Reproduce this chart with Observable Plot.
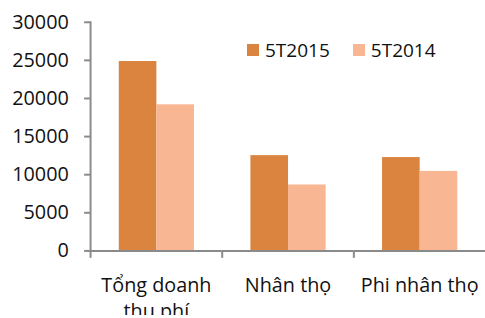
<!DOCTYPE html>
<html>
<head>
<meta charset="utf-8">
<script src="https://cdn.jsdelivr.net/npm/d3@7"></script>
<script src="https://cdn.jsdelivr.net/npm/@observablehq/plot@0.6"></script>
<style>
  html, body { margin: 0; padding: 0; background: #fff; overflow: hidden; }
  #wrap { position: relative; width: 485px; height: 318px; overflow: hidden; font-family: "Open Sans", sans-serif; }
  #chart svg text { font-size: 20px; }
  #leg { position: absolute; left: 247px; top: 33px; }
  .lg-swatch { margin-right: 23px !important; }
  .lg-swatch > svg { margin-right: 6px !important; }
</style>
</head>
<body>
<div id="wrap"><div id="chart"></div><div id="leg"></div></div>
<script>
const categories = ["Tổng doanh thu phí", "Nhân thọ", "Phi nhân thọ"];
const series = ["5T2015", "5T2014"];
const values2015 = [24850, 12500, 12250];
const values2014 = [19170, 8650, 10430];
const colors = ["#DA843F", "#F8B693"];
const yTicks = [0, 5000, 10000, 15000, 20000, 25000, 30000];
const catLabels = {"Tổng doanh thu phí": "Tổng doanh\nthu phí", "Nhân thọ": "Nhân thọ", "Phi nhân thọ": "Phi nhân thọ"};

const data = [];
categories.forEach((c, i) => {
  data.push({cat: c, series: series[0], value: values2015[i]});
  data.push({cat: c, series: series[1], value: values2014[i]});
});

const axisGray = "#8a8a8a";
const tickSymbol = { draw(context, size) { context.moveTo(0, 0); context.lineTo(0, 7); } };

const plot = Plot.plot({
  width: 490,
  height: 318,
  marginLeft: 90,
  marginRight: 0,
  marginTop: 22,
  marginBottom: 65,
  style: { fontFamily: "Open Sans, sans-serif", fontSize: "20px", color: "#111", background: "#fff" },
  fx: { domain: categories, padding: 0, label: null },
  x: { domain: series, paddingInner: 0, paddingOuter: 0.75, axis: null },
  y: { domain: [0, 30000], ticks: yTicks, label: null },
  color: { domain: series, range: colors },
  marks: [
    Plot.barY(data, { fx: "cat", x: "series", y: "value", fill: "series" }),
    Plot.ruleY([0], { stroke: axisGray, strokeWidth: 2 }),
    Plot.frame({ anchor: "left", facet: "super", stroke: axisGray, strokeWidth: 2 }),
    Plot.dot(categories, { fx: d => d, frameAnchor: "bottom-left", symbol: tickSymbol, stroke: axisGray, strokeWidth: 2, fill: "none" }),
    Plot.axisY({ ticks: yTicks, tickSize: 6, tickPadding: 16, stroke: axisGray, strokeWidth: 2, fill: "#111", tickFormat: d => String(d), fontSize: 20 }),
    Plot.axisFx({ anchor: "bottom", tickSize: 0, tickPadding: 23.5, fill: "#111", fontSize: 20, lineHeight: 1.3, tickFormat: d => catLabels[d], label: null })
  ]
});
document.getElementById("chart").appendChild(plot);

const leg = plot.legend("color", { legend: "swatches", swatchSize: 12, className: "lg", style: { fontFamily: "Open Sans, sans-serif", fontSize: "19px", color: "#111" } });
document.getElementById("leg").appendChild(leg);
</script>
</body>
</html>
